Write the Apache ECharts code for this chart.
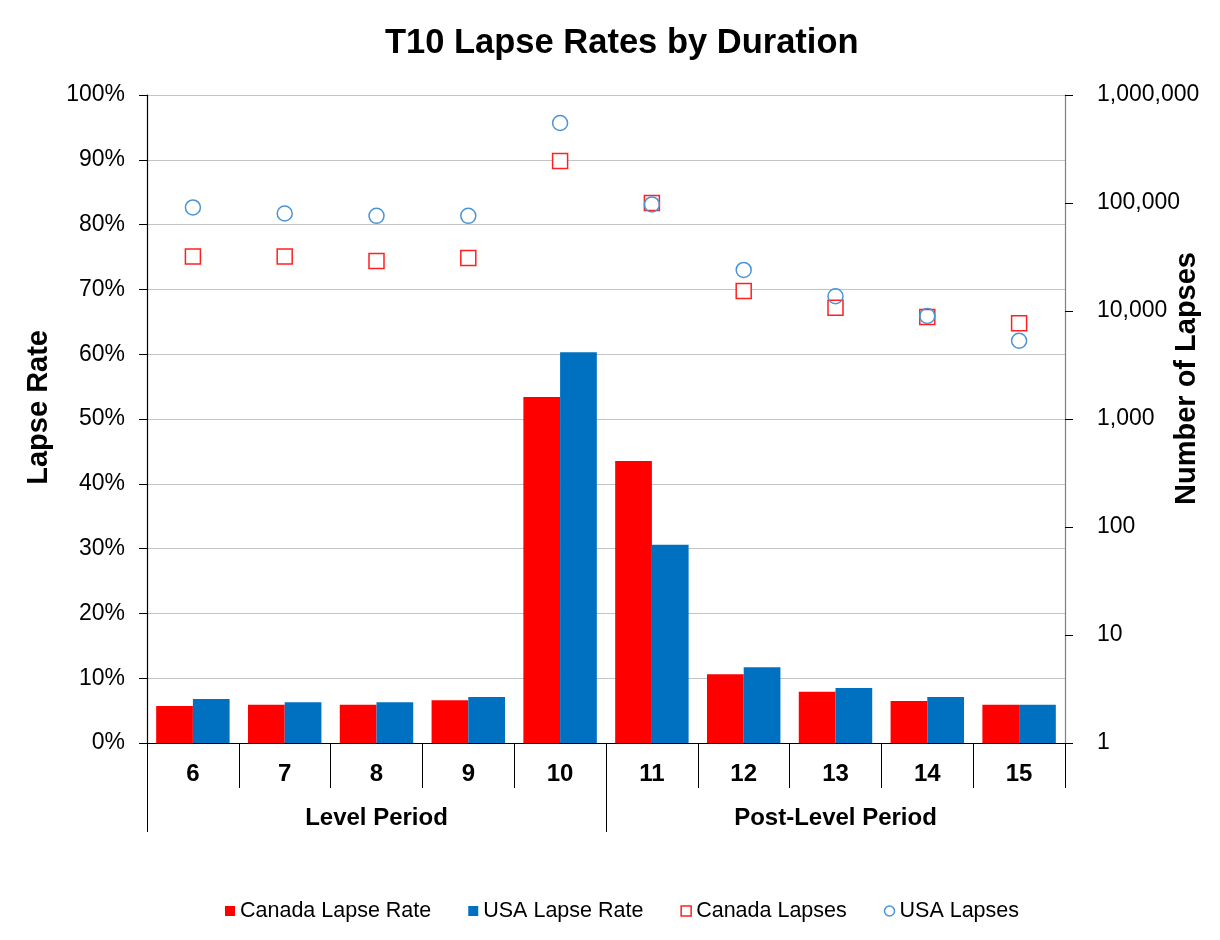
<!DOCTYPE html>
<html>
<head>
<meta charset="utf-8">
<script src="https://cdn.jsdelivr.net/npm/echarts@6/dist/echarts.min.js"></script>
<style>
html,body{margin:0;padding:0;background:#fff;}
#chart{width:1220px;height:940px;}
</style>
</head>
<body>
<div id="chart"></div>
<script>
const durations = ['6','7','8','9','10','11','12','13','14','15'];
const periodGroups = ['Level Period','Post-Level Period'];
const canadaLapseRate = [5.7, 5.9, 5.9, 6.6, 53.4, 43.5, 10.6, 7.9, 6.5, 5.9];
const usaLapseRate = [6.8, 6.3, 6.3, 7.1, 60.3, 30.6, 11.7, 8.5, 7.1, 5.9];
const canadaLapses = [32000, 32000, 29000, 31000, 245000, 100000, 15300, 10700, 8800, 7700];
const usaLapses = [91000, 80000, 76000, 76000, 550000, 97000, 24000, 13700, 9000, 5300];

const FONT = 'Liberation Sans, Arial, sans-serif';
const chart = echarts.init(document.getElementById('chart'), null, {renderer:'canvas'});

const option = {
  animation: false,
  backgroundColor: '#ffffff',
  textStyle: {fontFamily: FONT, color: '#000'},
  title: {
    text: 'T10 Lapse Rates by Duration',
    left: 380,
    top: 21,
    textStyle: {fontFamily: FONT, fontSize: 34.5, fontWeight: 'bold', color: '#000'}
  },
  legend: {
    bottom: 13,
    left: 220,
    itemWidth: 10,
    itemHeight: 10,
    itemGap: 37,
    textStyle: {fontFamily: FONT, fontSize: 21.5, color: '#000'},
    data: [
      {name: 'Canada Lapse Rate', icon: 'rect'},
      {name: 'USA Lapse Rate', icon: 'rect'},
      {name: 'Canada Lapses', icon: 'rect', itemStyle: {color: '#fff', borderColor: '#ff2020', borderWidth: 1.5}},
      {name: 'USA Lapses', icon: 'circle', itemStyle: {color: '#fff', borderColor: '#4a94d6', borderWidth: 1.5}}
    ]
  },
  grid: {left: 147, right: 155, top: 95, bottom: 197, containLabel: false},
  xAxis: [
    {
      type: 'category',
      data: durations,
      position: 'bottom',
      axisLine: {show: true, lineStyle: {color: '#000', width: 1.2}},
      axisTick: {show: true, interval: 0, length: 45, lineStyle: {color: '#000', width: 1}},
      axisLabel: {interval: 0, fontFamily: FONT, fontSize: 24, fontWeight: 'bold', color: '#000', margin: 19},
      splitLine: {show: false}
    },
    {
      type: 'value',
      position: 'bottom',
      offset: 45,
      min: 0,
      max: 2,
      axisLine: {show: false},
      axisTick: {show: true, customValues: [0, 1], length: 44, lineStyle: {color: '#000', width: 1}},
      axisLabel: {
        customValues: [0.5, 1.5],
        fontFamily: FONT, fontSize: 24, fontWeight: 'bold', color: '#000', margin: 18,
        formatter: function (v) { return periodGroups[Math.floor(v)]; }
      },
      splitLine: {show: false}
    }
  ],
  yAxis: [
    {
      type: 'value',
      min: 0,
      max: 100,
      interval: 10,
      position: 'left',
      axisLine: {show: true, lineStyle: {color: '#000', width: 1.2}},
      axisTick: {show: true, length: 8, lineStyle: {color: '#000'}},
      axisLabel: {fontFamily: FONT, fontSize: 23, color: '#000', margin: 22, formatter: '{value}%'},
      splitLine: {show: true, lineStyle: {color: '#c4c4c4', width: 1}}
    },
    {
      type: 'log',
      logBase: 10,
      min: 1,
      max: 1000000,
      position: 'right',
      axisLine: {show: true, lineStyle: {color: '#7f7f7f', width: 1.2}},
      axisTick: {show: true, length: 8, lineStyle: {color: '#000'}},
      axisLabel: {fontFamily: FONT, fontSize: 23, color: '#000', margin: 32,
        formatter: function (v) { return Math.round(v).toLocaleString('en-US'); }},
      splitLine: {show: false}
    }
  ],
  graphic: [
    {
      type: 'text',
      left: 24,
      top: 330,
      rotation: Math.PI / 2,
      style: {text: 'Lapse Rate', fontFamily: FONT, fontSize: 29, fontWeight: 'bold', fill: '#000'}
    },
    {
      type: 'text',
      left: 1172,
      top: 252,
      rotation: Math.PI / 2,
      style: {text: 'Number of Lapses', fontFamily: FONT, fontSize: 29, fontWeight: 'bold', fill: '#000'}
    }
  ],
  series: [
    {
      name: 'Canada Lapse Rate', type: 'bar', xAxisIndex: 0, yAxisIndex: 0,
      data: canadaLapseRate, barGap: '0%', barCategoryGap: '20%',
      itemStyle: {color: '#ff0000'}
    },
    {
      name: 'USA Lapse Rate', type: 'bar', xAxisIndex: 0, yAxisIndex: 0,
      data: usaLapseRate, barGap: '0%', barCategoryGap: '20%',
      itemStyle: {color: '#0070c0'}
    },
    {
      name: 'Canada Lapses', type: 'scatter', xAxisIndex: 0, yAxisIndex: 1,
      data: canadaLapses, symbol: 'rect', symbolSize: 15,
      itemStyle: {color: '#ffffff', borderColor: '#ff2020', borderWidth: 1.5, opacity: 1}
    },
    {
      name: 'USA Lapses', type: 'scatter', xAxisIndex: 0, yAxisIndex: 1,
      data: usaLapses, symbol: 'circle', symbolSize: 15,
      itemStyle: {color: 'rgba(255,255,255,0)', borderColor: '#4a94d6', borderWidth: 1.5, opacity: 1}
    }
  ]
};
chart.setOption(option);
</script>
</body>
</html>
